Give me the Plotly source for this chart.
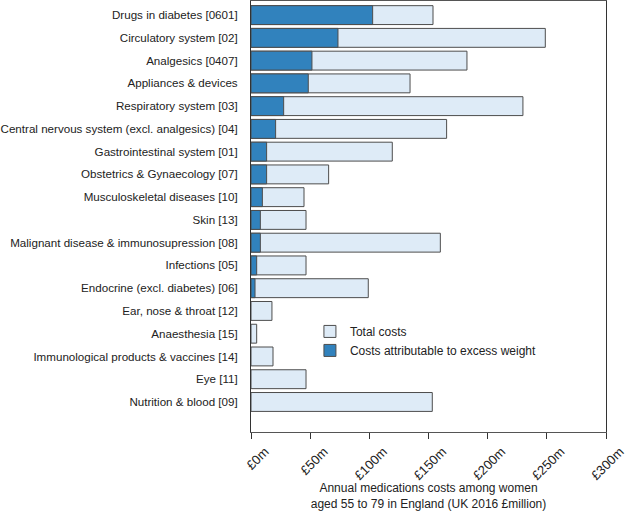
import plotly.graph_objects as go

categories = [
    "Drugs in diabetes [0601]",
    "Circulatory system [02]",
    "Analgesics [0407]",
    "Appliances & devices",
    "Respiratory system [03]",
    "Central nervous system (excl. analgesics) [04]",
    "Gastrointestinal system [01]",
    "Obstetrics & Gynaecology [07]",
    "Musculoskeletal diseases [10]",
    "Skin [13]",
    "Malignant disease & immunosupression [08]",
    "Infections [05]",
    "Endocrine (excl. diabetes) [06]",
    "Ear, nose & throat [12]",
    "Anaesthesia [15]",
    "Immunological products & vaccines [14]",
    "Eye [11]",
    "Nutrition & blood [09]",
]
total_costs = [153.8, 248.7, 182.5, 134.4, 229.8, 165.3, 119.4, 65.6, 44.8, 46.5,
               160.0, 46.5, 99.1, 17.7, 4.8, 18.6, 46.5, 153.2]
excess_costs = [102.8, 73.5, 51.5, 48.4, 27.6, 20.8, 13.2, 13.2, 9.6, 7.9,
                7.9, 4.8, 3.4, 0, 0, 0, 0, 0]
tick_vals = [0, 50, 100, 150, 200, 250, 300]
tick_text = ["£0m", "£50m", "£100m", "£150m", "£200m", "£250m", "£300m"]

font = "Liberation Sans, Arial, sans-serif"

fig = go.Figure()
fig.add_trace(go.Bar(
    y=categories, x=total_costs, orientation="h", name="Total costs",
    marker=dict(color="#deebf7", line=dict(color="#4d4d4d", width=1)),
))
fig.add_trace(go.Bar(
    y=categories, x=excess_costs, orientation="h", name="Costs attributable to excess weight",
    marker=dict(color="#3182bd",
                line=dict(color="#4d4d4d", width=[1 if v > 0 else 0 for v in excess_costs])),
))

fig.update_layout(
    width=630, height=511,
    margin=dict(l=251, r=24, t=1, b=79),
    barmode="overlay", bargap=0.17,
    plot_bgcolor="white", paper_bgcolor="white",
    font=dict(family=font, size=12, color="#222222"),
    showlegend=True,
    legend=dict(x=0.166, y=0.267, xanchor="left", yanchor="top",
                bgcolor="rgba(0,0,0,0)", font=dict(size=12),
                tracegroupgap=0),
    xaxis=dict(
        range=[0, 300], tickvals=tick_vals, ticktext=tick_text, tickangle=-45,
        tickfont=dict(size=13), ticklabelshift=14,
        ticks="outside", ticklen=6, tickcolor="#333", showgrid=False, zeroline=False,
        showline=True, linecolor="#555", linewidth=1, mirror=True, automargin=False,
        title=dict(text="Annual medications costs among women<br>aged 55 to 79 in England (UK 2016 £million)",
                   font=dict(size=12), standoff=0),
    ),
    yaxis=dict(
        categoryorder="array", categoryarray=categories,
        range=[18.32, -0.62], showgrid=False, zeroline=False, automargin=False,
        tickfont=dict(size=11.6),
        ticks="outside", ticklen=10, tickcolor="rgba(0,0,0,0)",
        showline=True, linecolor="#333", linewidth=1, mirror=True,
    ),
)

fig.write_html("out.html", config={"displayModeBar": False},
               post_script="document.body.style.margin='0';")
